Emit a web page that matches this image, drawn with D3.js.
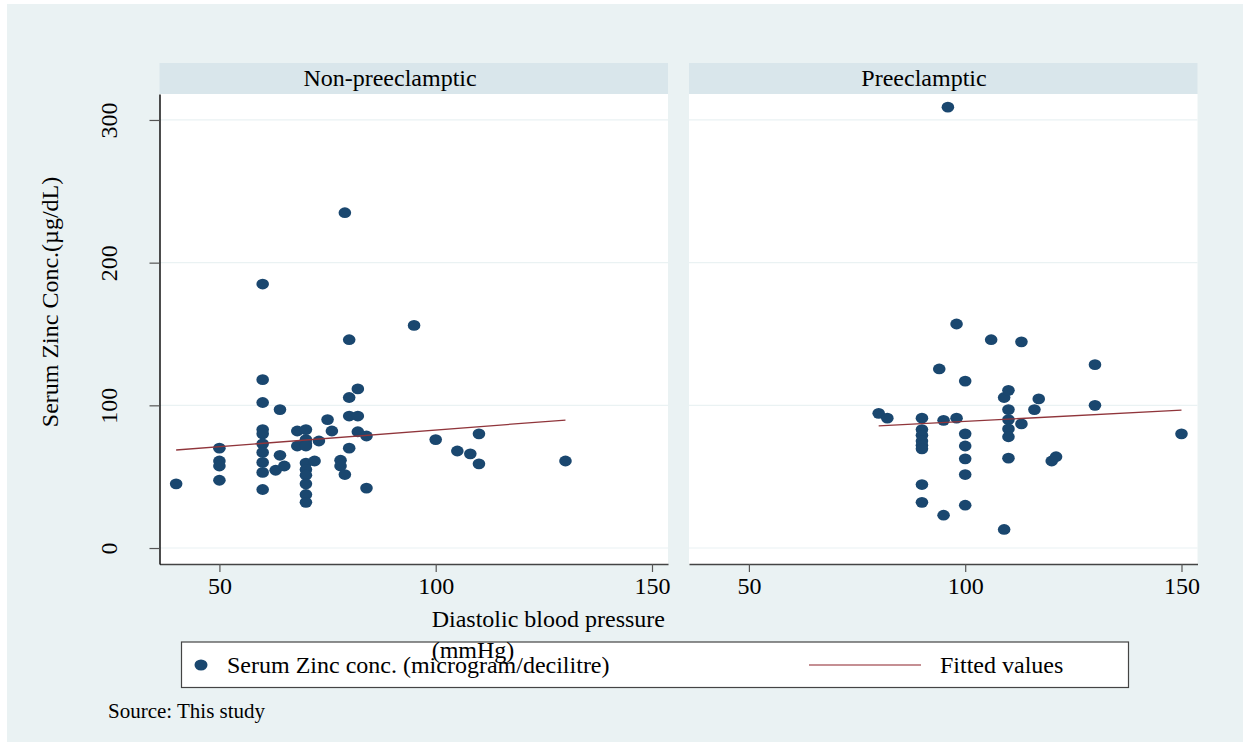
<!DOCTYPE html>
<html><head><meta charset="utf-8">
<script src="https://cdn.jsdelivr.net/npm/d3@7"></script>
<style>body{margin:0;background:#fff}svg{display:block}text{font-family:"Liberation Serif","Times New Roman",serif;fill:#000}</style>
</head><body><svg id="c" width="1250" height="746"></svg>
<script>
// ---- data ----
const panels = ["Non-preeclamptic", "Preeclamptic"];
const nonX = [40,50,50,50,50,60,60,60,60,60,60,60,60,60,60,63,64,64,65,68,68,70,70,70,70,70,70,70,70,70,70,72,73,75,76,78,78,79,79,80,80,80,80,82,82,82,84,84,95,100,105,108,110,110,130];
const nonY = [45,70,61,57.5,47.5,185,118,102,83,80,73,67,60,53,41,54.5,97,65,57.5,82,71.5,83,76,73,71.5,59.5,55,51,45,37.5,32,61,75,90,82,61.5,57.5,51.5,235,146,105.5,92.5,70,111.5,92.5,81.5,78.5,42,156,76,68,66,80,59,61];
const preX = [80,82,90,90,90,90,90,90,90,90,94,95,95,96,98,98,100,100,100,100,100,100,106,109,109,110,110,110,110,110,110,113,113,116,117,120,121,130,130,150];
const preY = [94.4,91,91,83,79,75,72,69.5,44.5,32,125.5,89.5,23,309,157,91,117,80,71.5,62.5,51.5,30,146,105.5,13,110.5,97,90,83.5,78,63,144.5,87,97,104.5,61,64,128.5,100,80];
const fitNonX = [40,130], fitNonY = [68.7,89.7];
const fitPreX = [80,150], fitPreY = [85.6,96.6];
const xTicks = [50,100,150];
const yTicks = [0,100,200,300];
const xTitle = ["Diastolic blood pressure","(mmHg)"];
const yTitle = "Serum Zinc Conc.(µg/dL)";
const legendLabels = ["Serum Zinc conc. (microgram/decilitre)","Fitted values"];
const note = "Source: This study";

// ---- layout ----
const svg = d3.select("#c");
const BG="#eaf2f3", STRIP="#d9e6eb", MARK="#1a476f", FIT="#90353b";
svg.append("rect").attr("x",7).attr("y",4).attr("width",1236).attr("height",738).attr("fill",BG);

const plotTop=94, plotBottom=564, stripTop=63;
const panelX = [[159.5,668],[689,1197.5]];
const y = d3.scaleLinear().domain([-11.2,318.2]).range([plotBottom,plotTop]);
const data = [[nonX,nonY,fitNonX,fitNonY],[preX,preY,fitPreX,fitPreY]];
const stripTextX = [390,924];

panels.forEach((name,i)=>{
  const [x0,x1]=panelX[i];
  const x = d3.scaleLinear().domain([36.15,153.7]).range([x0,x1]);
  const g = svg.append("g");
  g.append("rect").attr("x",x0).attr("y",plotTop).attr("width",x1-x0).attr("height",plotBottom-plotTop).attr("fill","#fff");
  g.append("rect").attr("x",x0).attr("y",stripTop).attr("width",x1-x0).attr("height",plotTop-stripTop).attr("fill",STRIP);
  g.append("text").attr("x",stripTextX[i]).attr("y",86).attr("text-anchor","middle").attr("font-size",24).text(name);
  // gridlines
  g.selectAll(".grid").data(yTicks).join("line")
    .attr("x1",x0).attr("x2",x1).attr("y1",d=>y(d)).attr("y2",d=>y(d))
    .attr("stroke",BG).attr("stroke-width",1.2);
  // points
  const [px,py,fx,fy]=data[i];
  g.selectAll(".pt").data(px.map((v,k)=>[v,py[k]])).join("ellipse")
    .attr("cx",d=>x(d[0])).attr("cy",d=>y(d[1])).attr("rx",6.3).attr("ry",5.4).attr("fill",MARK);
  // fit line
  g.append("line").attr("x1",x(fx[0])).attr("y1",y(fy[0])).attr("x2",x(fx[1])).attr("y2",y(fy[1]))
    .attr("stroke",FIT).attr("stroke-width",1.3);
  // x axis
  const ax = g.append("g").attr("transform",`translate(0,${plotBottom})`)
    .call(d3.axisBottom(x).tickValues(xTicks).tickSize(8).tickSizeOuter(0).tickPadding(5));
  ax.select(".domain").attr("stroke","#444").attr("stroke-width",1.3);
  ax.selectAll(".tick line").attr("stroke","#555").attr("stroke-width",1.2);
  ax.selectAll(".tick text").attr("font-size",24).attr("font-family","Liberation Serif").attr("fill","#000").attr("dy","0.71em");
  if(i===0){
    const ay = g.append("g").attr("transform",`translate(${x0},0)`)
      .call(d3.axisLeft(y).tickValues(yTicks).tickSize(10).tickSizeOuter(0).tickFormat(d3.format("d")));
    ay.select(".domain").attr("stroke","#000").attr("stroke-width",1.4);
    ay.selectAll(".tick line").attr("stroke","#555").attr("stroke-width",1.2);
    ay.selectAll(".tick text").attr("font-size",24).attr("font-family","Liberation Serif").attr("fill","#000")
      .attr("x",null).attr("dy",null).attr("text-anchor","middle")
      .attr("transform","translate(-43,0) rotate(-90)");
  }
});

// y title
svg.append("text").attr("transform","translate(58,302) rotate(-90)").attr("text-anchor","middle")
  .attr("font-size",24).text(yTitle);

// legend
const lg = svg.append("g");
lg.append("rect").attr("x",181.5).attr("y",642).attr("width",947).attr("height",45.5)
  .attr("fill","#fff").attr("stroke","#444").attr("stroke-width",1.2);
lg.append("ellipse").attr("cx",201).attr("cy",665).attr("rx",6.5).attr("ry",5.5).attr("fill",MARK);
lg.append("text").attr("x",227).attr("y",673).attr("font-size",24).text(legendLabels[0]);
lg.append("line").attr("x1",809).attr("x2",921).attr("y1",665).attr("y2",665).attr("stroke","#b26a6f").attr("stroke-width",1.3);
lg.append("text").attr("x",940).attr("y",673).attr("font-size",24).text(legendLabels[1]);

// x title (drawn over legend as in original)
svg.append("text").attr("x",431.7).attr("y",627).attr("font-size",24).text(xTitle[0]);
svg.append("text").attr("x",431.7).attr("y",658).attr("font-size",24).text(xTitle[1]);

// note
svg.append("text").attr("x",108).attr("y",718).attr("font-size",21).text(note);
</script></body></html>
